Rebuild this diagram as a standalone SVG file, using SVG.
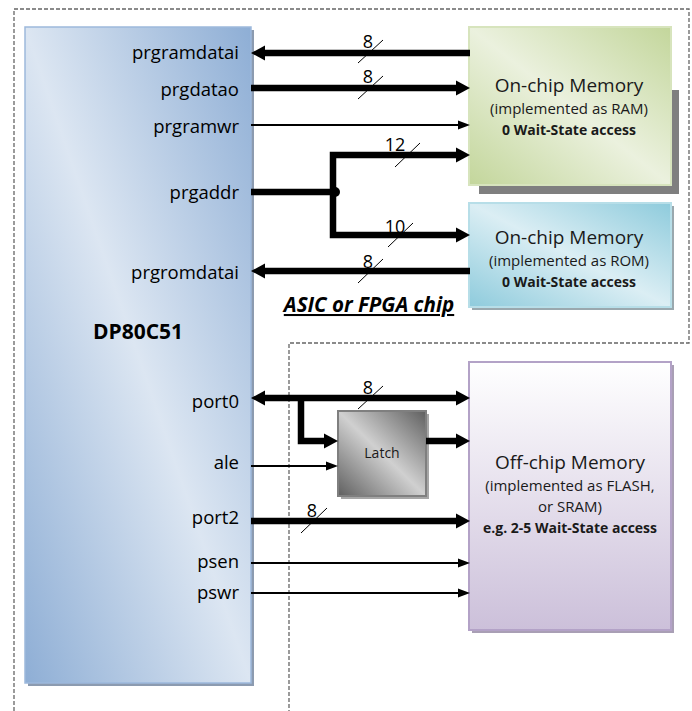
<svg xmlns="http://www.w3.org/2000/svg" width="692" height="711" viewBox="0 0 692 711">
<defs>
<linearGradient id="gBlue" x1="1" y1="0" x2="0" y2="1">
<stop offset="0" stop-color="#8eaed5"/>
<stop offset="0.5" stop-color="#dce6f2"/>
<stop offset="1" stop-color="#8eaed5"/>
</linearGradient>
<linearGradient id="gGreen" x1="1" y1="0" x2="0" y2="1">
<stop offset="0" stop-color="#c3d69b"/>
<stop offset="0.5" stop-color="#ebf1de"/>
<stop offset="1" stop-color="#c3d69b"/>
</linearGradient>
<linearGradient id="gCyan" x1="1" y1="0" x2="0" y2="1">
<stop offset="0" stop-color="#8ecbdc"/>
<stop offset="0.5" stop-color="#dbeef4"/>
<stop offset="1" stop-color="#8ecbdc"/>
</linearGradient>
<linearGradient id="gGray" x1="1" y1="0" x2="0" y2="1">
<stop offset="0" stop-color="#5f5f5f"/>
<stop offset="0.5" stop-color="#d0d0d0"/>
<stop offset="1" stop-color="#5f5f5f"/>
</linearGradient>
<linearGradient id="gPurple" x1="0" y1="0" x2="0" y2="1">
<stop offset="0" stop-color="#ffffff"/>
<stop offset="1" stop-color="#ccc0da"/>
</linearGradient>
<marker id="ah" markerUnits="userSpaceOnUse" markerWidth="14" markerHeight="15" refX="0" refY="7.5" orient="auto-start-reverse" overflow="visible">
<path d="M0,0 L14,7.5 L0,15 z" fill="#000"/>
</marker>
<marker id="at" markerUnits="userSpaceOnUse" markerWidth="12" markerHeight="9" refX="0" refY="4.5" orient="auto-start-reverse" overflow="visible">
<path d="M0,0 L12,4.5 L0,9 z" fill="#000"/>
</marker>
</defs>
<style>
.dash{fill:none;stroke:#666;stroke-width:1.3;stroke-dasharray:4 2}
.sig{font-family:"Open Sans","Liberation Sans",sans-serif;font-size:18.5px;fill:#000;text-anchor:end}
.num{font-family:"Open Sans","Liberation Sans",sans-serif;font-size:18px;fill:#000;text-anchor:middle}
.t1{font-family:"Open Sans","Liberation Sans",sans-serif;font-size:19px;fill:#1a1a1a;text-anchor:middle}
.t2{font-family:"Open Sans","Liberation Sans",sans-serif;font-size:15px;fill:#1a1a1a;text-anchor:middle}
.t3{font-family:"Open Sans","Liberation Sans",sans-serif;font-size:14px;font-weight:bold;fill:#1a1a1a;text-anchor:middle}
.thick{fill:none;stroke:#000;stroke-width:6.5;marker-end:url(#ah)}
.thin{fill:none;stroke:#000;stroke-width:1.8;marker-end:url(#at)}
.sl{stroke:#000;stroke-width:1}
</style>
<rect width="692" height="711" fill="#fff"/>
<g id="chip-border">
<path class="dash" d="M14,711 V9 H689 V343 H289 V711"/>
</g>
<g id="dp80c51">
<rect x="28" y="30" width="226" height="656" fill="#8c9bb0"/>
<rect x="25" y="27" width="226" height="656" fill="url(#gBlue)" stroke="#9db9dc" stroke-width="1.5"/>
<text x="138" y="339" font-family="'Open Sans','Liberation Sans',sans-serif" font-size="21" font-weight="bold" text-anchor="middle" fill="#000">DP80C51</text>
<text class="sig" x="239" y="59">prgramdatai</text>
<text class="sig" x="239" y="96">prgdatao</text>
<text class="sig" x="239" y="133">prgramwr</text>
<text class="sig" x="239" y="199">prgaddr</text>
<text class="sig" x="239" y="279">prgromdatai</text>
<text class="sig" x="239" y="408">port0</text>
<text class="sig" x="239" y="469">ale</text>
<text class="sig" x="239" y="524">port2</text>
<text class="sig" x="239" y="568">psen</text>
<text class="sig" x="239" y="599">pswr</text>
</g>
<g id="ram">
<rect x="479" y="90" width="200" height="104" fill="#7f7f7f"/>
<rect x="469" y="27" width="202" height="158" fill="url(#gGreen)" stroke="#d7e4bd" stroke-width="2"/>
<text class="t1" x="569" y="92">On-chip Memory</text>
<text class="t2" x="569" y="114">(implemented as RAM)</text>
<text class="t3" x="569" y="135">0 Wait-State access</text>
</g>
<g id="rom">
<rect x="472" y="206" width="202" height="104" fill="#9aa8ae"/>
<rect x="469" y="203" width="202" height="104" fill="url(#gCyan)" stroke="#b7dee8" stroke-width="2"/>
<text class="t1" x="569" y="244">On-chip Memory</text>
<text class="t2" x="569" y="266">(implemented as ROM)</text>
<text class="t3" x="569" y="287">0 Wait-State access</text>
</g>
<g id="chip-label">
<text x="369" y="312" font-family="'Open Sans','Liberation Sans',sans-serif" font-size="20.5" font-weight="bold" font-style="italic" text-decoration="underline" text-anchor="middle" fill="#000">ASIC or FPGA chip</text>
</g>
<g id="latch">
<rect x="341" y="414" width="88" height="85" fill="#a6a6a6"/>
<rect x="338" y="411" width="88" height="85" fill="url(#gGray)" stroke="#7f7f7f" stroke-width="2"/>
<text x="382" y="458" font-family="'Open Sans','Liberation Sans',sans-serif" font-size="14" text-anchor="middle" fill="#1a1a1a">Latch</text>
</g>
<g id="offchip">
<rect x="472" y="365" width="202" height="268" fill="#a99fb5"/>
<rect x="469" y="362" width="202" height="268" fill="url(#gPurple)" stroke="#b3a2c7" stroke-width="2"/>
<text class="t1" x="570" y="469">Off-chip Memory</text>
<text class="t2" x="570" y="491">(implemented as FLASH,</text>
<text class="t2" x="570" y="512">or SRAM)</text>
<text class="t3" x="570" y="533">e.g. 2-5 Wait-State access</text>
</g>
<g id="connectors">
<line class="thick" x1="470" y1="53" x2="265" y2="53"/>
<line class="thick" x1="251" y1="88" x2="456" y2="88"/>
<line class="thin" x1="251" y1="125" x2="458" y2="125"/>
<line x1="251" y1="192" x2="333" y2="192" stroke="#000" stroke-width="6.5"/>
<path d="M456,155 H333 V235 H456" fill="none" stroke="#000" stroke-width="6.5" stroke-linejoin="miter" marker-start="url(#ah)" marker-end="url(#ah)"/>
<circle cx="335" cy="192" r="5" fill="#000"/>
<line class="thick" x1="470" y1="271" x2="265" y2="271"/>
<line x1="265" y1="398" x2="456" y2="398" fill="none" stroke="#000" stroke-width="6.5" marker-start="url(#ah)" marker-end="url(#ah)"/>
<path class="thick" d="M301,395 V441 H324" stroke-linejoin="miter"/>
<line class="thin" x1="251" y1="466" x2="326" y2="466"/>
<line class="thick" x1="426" y1="441" x2="456" y2="441"/>
<line class="thick" x1="251" y1="521" x2="456" y2="521"/>
<line class="thin" x1="251" y1="563" x2="458" y2="563"/>
<line class="thin" x1="251" y1="593" x2="458" y2="593"/>
<line class="sl" x1="358" y1="63" x2="383" y2="40"/>
<line class="sl" x1="358" y1="99" x2="383" y2="76"/>
<line class="sl" x1="395" y1="167" x2="420" y2="143"/>
<line class="sl" x1="388" y1="247" x2="413" y2="223"/>
<line class="sl" x1="358" y1="283" x2="383" y2="259"/>
<line class="sl" x1="358" y1="409" x2="383" y2="386"/>
<line class="sl" x1="301" y1="533" x2="327" y2="508"/>
<text class="num" x="368" y="48">8</text>
<text class="num" x="368" y="83">8</text>
<text class="num" x="395" y="151">12</text>
<text class="num" x="395" y="233">10</text>
<text class="num" x="368" y="268">8</text>
<text class="num" x="368" y="394">8</text>
<text class="num" x="312" y="517">8</text>
</g>
</svg>
